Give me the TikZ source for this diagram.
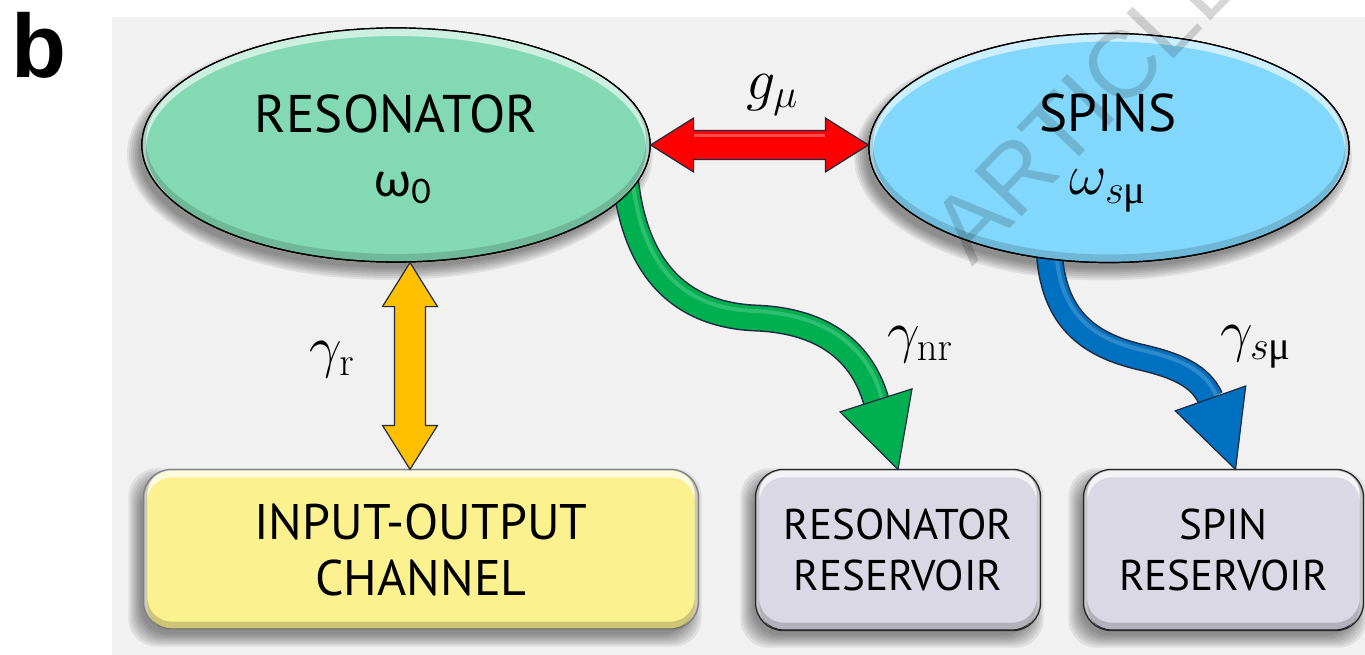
\RequirePackage{fix-cm}
\documentclass[tikz,border=0pt]{standalone}
\usepackage{amsmath}
\usepackage[no-math]{fontspec}
\setmainfont{PT Sans}
\newfontfamily\grkfont{Lato}
\newfontfamily\lsans{Liberation Sans}
\newfontfamily\serifgrk{Liberation Serif}
\usetikzlibrary{shapes.geometric,calc}

\definecolor{panel}{HTML}{F1F1F1}
\definecolor{resfill}{HTML}{84D9B5}
\definecolor{spinfill}{HTML}{82D8FC}
\definecolor{iofill}{HTML}{FBF18F}
\definecolor{reservfill}{HTML}{DAD8E4}
\definecolor{redarr}{HTML}{FF0000}
\definecolor{yelarr}{HTML}{FFC000}
\definecolor{grnarr}{HTML}{00B050}
\definecolor{bluarr}{HTML}{0070C0}
\definecolor{arrline}{HTML}{1F2A40}

\newcommand\fntTitle{\fontsize{53}{58}\selectfont}
\newcommand\fntIO{\fontsize{50}{56}\selectfont}
\newcommand\fntRes{\fontsize{43}{51}\selectfont}
\newcommand\fntOmega{\fontsize{48}{52}\selectfont}
\newcommand\fntMath{\fontsize{58}{62}\selectfont}
\newcommand\fntLab{\fontsize{58}{62}\selectfont}
\newcommand\upmuS{\text{\serifgrk μ}}

\pgfdeclarelayer{back}
\pgfdeclarelayer{shadow}
\pgfsetlayers{back,shadow,main}

\tikzset{
  ellnode/.style={ellipse, draw=black, line width=1.2pt, inner sep=0pt},
  boxnode/.style={rectangle, rounded corners=28pt, draw=black!85, line width=1.2pt, inner sep=0pt, align=center},
  lab/.style={inner sep=0pt, font=\fntLab},
  fatarrow/.style={draw=arrline, line width=1.2pt, line join=miter},
  shadlayer/.style={black, opacity=.07},
}

\begin{document}
\begin{tikzpicture}[x=1pt,y=-1pt]
\useasboundingbox (0,0) rectangle (1365,655);
\begin{pgfonlayer}{back}
\fill[white] (0,0) rectangle (1365,655);
\fill[panel] (112,17) rectangle (1365,655);
\end{pgfonlayer}

% label b
\node[font=\lsans\bfseries\fontsize{90}{90}\selectfont, anchor=base west, inner sep=0pt] (lblb) at (11,78) {b};

% boxes
\node[boxnode, fill=iofill, draw=black!50, minimum width=554pt, minimum height=159pt, font=\fntIO] (io) at (421,549.5) {INPUT-OUTPUT\\CHANNEL};
\node[boxnode, fill=reservfill, minimum width=284pt, minimum height=160pt, font=\fntRes] (resres) at (898,550) {RESONATOR\\RESERVOIR};
\node[boxnode, fill=reservfill, minimum width=279pt, minimum height=160pt, font=\fntRes] (spinres) at (1223.5,550) {SPIN\\RESERVOIR};

% ellipses
\node[ellnode, fill=resfill, minimum width=508pt, minimum height=234pt] (res) at (396,145) {};
\node[ellnode, fill=spinfill, minimum width=480pt, minimum height=229pt] (spins) at (1109,148) {};

% soft shadows
\begin{pgfonlayer}{shadow}
\foreach \e in {9,7,5,3,1,-1,-3}{
  \foreach \n in {io,resres,spinres}
    \fill[shadlayer, rounded corners=28pt] ($(\n.south west)+(-6-\e,8+\e)$) rectangle ($(\n.north east)+(-6+\e,8-\e)$);
  \fill[shadlayer] ($(res.center)+(-6,9)$) ellipse [x radius=254pt+\e pt, y radius=117pt+\e pt];
  \fill[shadlayer] ($(spins.center)+(-6,9)$) ellipse [x radius=240pt+\e pt, y radius=114.5pt+\e pt];
}
\end{pgfonlayer}

% box bevels
\foreach \n in {io,resres,spinres}{
  \begin{scope}
    \clip[rounded corners=28pt] (\n.south west) rectangle (\n.north east);
    \draw[white, opacity=.7, line width=8pt, rounded corners=28pt] ($(\n.south west)+(0,4)$) rectangle ($(\n.north east)+(0,4)$);
    \draw[black, opacity=.18, line width=8pt, rounded corners=28pt] ($(\n.south west)+(0,-4)$) rectangle ($(\n.north east)+(0,-4)$);
  \end{scope}
}
\draw[black!50, line width=1.2pt, rounded corners=28pt] (io.south west) rectangle (io.north east);
\draw[black!85, line width=1.2pt, rounded corners=28pt] (resres.south west) rectangle (resres.north east);
\draw[black!85, line width=1.2pt, rounded corners=28pt] (spinres.south west) rectangle (spinres.north east);

% curved arrow shafts (behind ellipse covers)
\coordinate (gtip) at (resres.north);
\coordinate (gbase) at ($(gtip)+(-22,-69)$);
\coordinate (btip) at ($(spinres.north)+(12,0)$);
\coordinate (bbase) at ($(btip)+(-25,-71)$);

\foreach \lw/\col in {27pt/arrline,24pt/grnarr}
  \draw[line width=\lw, draw=\col] ($(res.center)+(229,30)$) .. controls (635,280) and (690,315) .. (755,318) .. controls (815,320) and (860,345) .. (gbase);
\draw[line width=4pt, draw=white, opacity=.18] ($(res.center)+(236,30)$) .. controls (642,278) and (693,309) .. (755,311) .. controls (818,314) and (866,340) .. ($(gbase)+(6,-2)$);
\foreach \lw/\col in {27pt/arrline,24pt/bluarr}
  \draw[line width=\lw, draw=\col] ($(spins.center)+(-60,100)$) .. controls (1052,320) and (1090,345) .. (1140,357) .. controls (1175,365) and (1200,375) .. (bbase);
\draw[line width=4pt, draw=white, opacity=.18] ($(spins.center)+(-53,100)$) .. controls (1059,316) and (1095,339) .. (1142,350) .. controls (1180,359) and (1206,370) .. ($(bbase)+(6,-2)$);

% ellipse covers with bevel
\filldraw[fill=resfill, draw=black, line width=1.2pt] (res.center) ellipse [x radius=254pt, y radius=117pt];
\filldraw[fill=spinfill, draw=black, line width=1.2pt] (spins.center) ellipse [x radius=240pt, y radius=114.5pt];
\begin{scope}
  \clip (res.center) ellipse [x radius=254pt, y radius=117pt];
  \draw[white, opacity=.6, line width=8pt] ($(res.center)+(0,4)$) ellipse [x radius=254pt, y radius=117pt];
  \draw[black, opacity=.15, line width=8pt] ($(res.center)+(0,-4)$) ellipse [x radius=254pt, y radius=117pt];
\end{scope}
\begin{scope}
  \clip (spins.center) ellipse [x radius=240pt, y radius=114.5pt];
  \draw[white, opacity=.6, line width=8pt] ($(spins.center)+(0,4)$) ellipse [x radius=240pt, y radius=114.5pt];
  \draw[black, opacity=.15, line width=8pt] ($(spins.center)+(0,-4)$) ellipse [x radius=240pt, y radius=114.5pt];
\end{scope}
\draw[black, line width=1.2pt] (res.center) ellipse [x radius=254pt, y radius=117pt];
\draw[black, line width=1.2pt] (spins.center) ellipse [x radius=240pt, y radius=114.5pt];

% curved arrow heads
\filldraw[fatarrow, fill=grnarr] (gtip) -- ($(gbase)+(-36,11.5)$) -- ($(gbase)+(36,-11.5)$) -- cycle;
\filldraw[fatarrow, fill=bluarr] (btip) -- ($(bbase)+(-35.2,12.4)$) -- ($(bbase)+(35.2,-12.4)$) -- cycle;

% red double arrow
\coordinate (rl) at (res.east);
\coordinate (rr) at (spins.west |- res.east);
\filldraw[fatarrow, fill=redarr] (rl) -- ($(rl)+(43,-27)$) -- ($(rl)+(43,-14.5)$) -- ($(rr)+(-43,-14.5)$) -- ($(rr)+(-43,-27)$) -- (rr) -- ($(rr)+(-43,27)$) -- ($(rr)+(-43,14.5)$) -- ($(rl)+(43,14.5)$) -- ($(rl)+(43,27)$) -- cycle;
\draw[white, opacity=.3, line width=3pt] ($(rl)+(43,-9)$) -- ($(rr)+(-43,-9)$);

% yellow double arrow
\coordinate (yt) at ($(res.south)+(14,0)$);
\coordinate (yb) at (yt |- io.north);
\filldraw[fatarrow, fill=yelarr] (yt) -- ($(yt)+(27.5,44)$) -- ($(yt)+(15.5,44)$) -- ($(yb)+(15.5,-44)$) -- ($(yb)+(27.5,-44)$) -- (yb) -- ($(yb)+(-27.5,-44)$) -- ($(yb)+(-15.5,-44)$) -- ($(yt)+(-15.5,44)$) -- ($(yt)+(-27.5,44)$) -- cycle;

% texts
\node[font=\fntTitle, anchor=base, inner sep=0pt] (restitle) at (396,133) {RESONATOR};
\node[font=\fntTitle, anchor=base, inner sep=0pt] (spintitle) at (1108,132) {SPINS};
\node[font=\fntOmega, inner sep=0pt] (resomega) at (403,188) {\grkfont ω\textsubscript{0}};
\node[font=\fntMath, inner sep=0pt] (spinomega) at (1108,191) {$\omega_{s\upmuS}$};
\node[lab] (glab) at (772,95) {$g_{\mu}$};
\node[lab] (grlab) at (332,360) {$\gamma_{\mathrm{r}}$};
\node[lab] (gnrlab) at (920,345) {$\gamma_{\mathrm{nr}}$};
\node[lab] (gsmulab) at (1256,347) {$\gamma_{s\upmuS}$};

% watermark
\node[font=\lsans\fontsize{95}{95}\selectfont, text=black, opacity=.16, rotate=46, anchor=base west, inner sep=0pt] (wm) at (972,268) {ARTICLE};
\end{tikzpicture}
\end{document}
